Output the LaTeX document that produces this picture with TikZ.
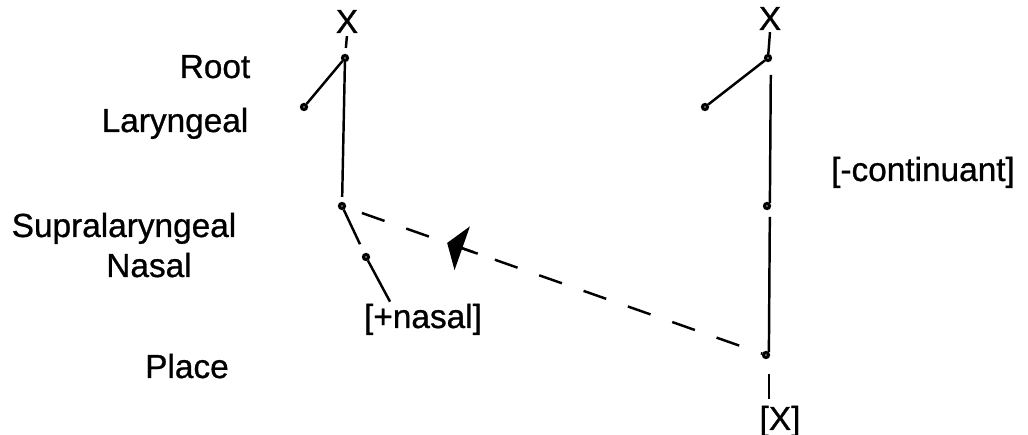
\documentclass[tikz,border=0pt]{standalone}
\usepackage{fontspec}
\setmainfont{Liberation Sans}
\newfontfamily\tierfont{Liberation Sans}[FakeBold=0.8]
\usetikzlibrary{arrows.meta,calc}

\begin{document}
\begin{tikzpicture}[x=0.02cm,y=-0.02cm,
    lbl/.style={anchor=base,font=\tierfont\fontsize{19}{22}\selectfont,inner sep=1pt},
    dot/.style={circle,draw,fill=white,line width=1.8pt,inner sep=0pt,minimum size=0.1cm},
    tie/.style={line width=1.4pt},
    spread/.style={line width=1.4pt,dash pattern=on 0.48cm off 0.46cm,dash phase=0.6cm},
    pointer/.style={line width=1.4pt,-{Triangle[length=0.32cm,width=0.92cm]}}]
  \useasboundingbox (0,0) rectangle (1028,435);
  % tier names
  \node[lbl] (tRoot) at (215,78) {Root};
  \node[lbl] (tLar) at (175,132) {Laryngeal};
  \node[lbl] (tSup) at (124,237) {Supralaryngeal};
  \node[lbl] (tNas) at (149,277) {Nasal};
  \node[lbl] (tPla) at (187,378) {Place};
  % nasal segment
  \node[lbl] (xL) at (347,33) {X};
  \node[dot] (rootL) at (345,58) {};
  \node[dot] (larL) at (304,107) {};
  \node[dot] (supL) at (342,206) {};
  \node[dot] (nasL) at (366,257) {};
  \node[lbl] (fNas) at (423,328) {[+nasal]};
  \draw[tie,shorten <=0.02cm,shorten >=0.12cm] (xL.south) -- (rootL);
  \draw[tie] (rootL) -- (larL);
  \draw[tie,shorten >=0.1cm] (rootL) -- (supL);
  \draw[tie,shorten >=0.2cm] (supL) -- (nasL);
  \draw[tie] (nasL) -- ($(fNas.north west)!0.23!(fNas.north east)$);
  % stop segment
  \node[lbl] (xR) at (770,30) {X};
  \node[dot] (rootR) at (768,58) {};
  \node[dot] (larR) at (705,107) {};
  \node[dot] (supR) at (767,206) {};
  \node[dot] (plaR) at (766,355) {};
  \node[lbl] (fCont) at (923,181) {[-continuant]};
  \node[lbl] (fX) at (780,430) {[X]};
  \draw[tie] (xR.south) -- (rootR);
  \draw[tie] (rootR) -- (larR);
  \draw[tie,shorten <=0.28cm] (rootR.south east) -- (supR.north east);
  \draw[tie,shorten <=0.16cm] (supR.south east) -- (plaR.north east);
  \draw[tie,shorten <=0.32cm,shorten >=0.1cm] (plaR.south east) -- (plaR.south east |- fX.north);
  % spreading of [+nasal]
  \draw[spread] (supL) -- (plaR);
  \coordinate (tipA) at ($(supL)!0.248!(plaR)$);
  \coordinate (tailA) at ($(supL)!0.32!(plaR)$);
  \draw[pointer] (tailA) -- (tipA);
\end{tikzpicture}
\end{document}
